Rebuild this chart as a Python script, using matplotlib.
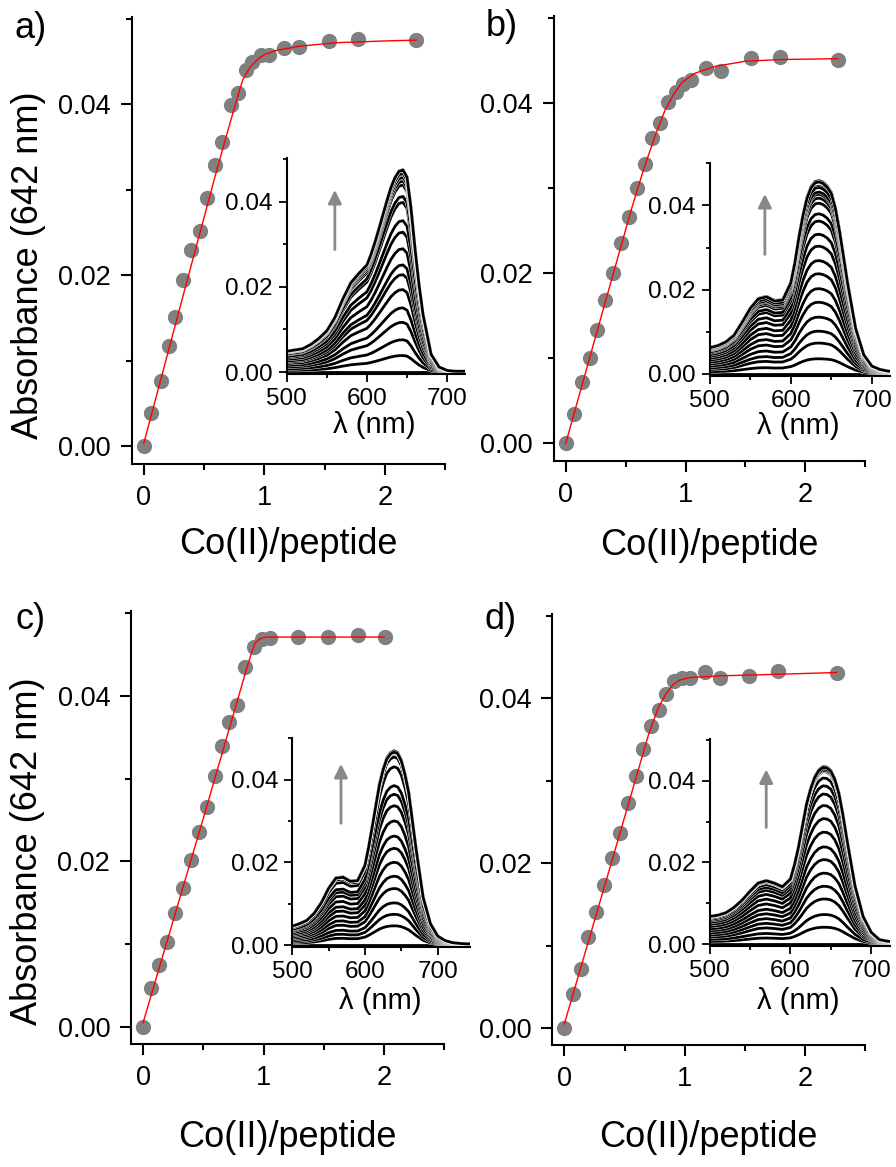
import matplotlib
matplotlib.use('Agg')
import matplotlib.pyplot as plt
import matplotlib.patheffects as pe
from matplotlib.ticker import MultipleLocator, FormatStrFormatter
import numpy as np

plt.rcParams['font.family'] = ['Liberation Sans', 'DejaVu Sans']

# titration at 642 nm: Co(II)/peptide ratio vs absorbance
ratio_a = [0, 0.064, 0.139, 0.208, 0.26, 0.327, 0.393, 0.463, 0.526, 0.587, 0.651, 0.72,
           0.781, 0.845, 0.9, 0.97, 1.039, 1.163, 1.288, 1.537, 1.778, 2.258]
abs_a = [0, 0.0039, 0.0076, 0.0117, 0.0151, 0.0194, 0.0229, 0.0252, 0.029, 0.0329, 0.0356, 0.0399,
         0.0413, 0.044, 0.0449, 0.0458, 0.0458, 0.0466, 0.0467, 0.0474, 0.0476, 0.0475]
ratio_b = [0, 0.067, 0.14, 0.204, 0.265, 0.33, 0.397, 0.464, 0.528, 0.595, 0.659, 0.723,
           0.788, 0.852, 0.916, 0.98, 1.045, 1.17, 1.299, 1.547, 1.79, 2.274]
abs_b = [0, 0.0035, 0.0072, 0.01, 0.0133, 0.0168, 0.02, 0.0235, 0.0266, 0.03, 0.0328, 0.0359,
         0.0376, 0.0401, 0.0413, 0.0422, 0.0427, 0.0441, 0.0438, 0.0453, 0.0454, 0.0451]
ratio_c = [0, 0.064, 0.133, 0.2, 0.264, 0.333, 0.397, 0.464, 0.531, 0.597, 0.653, 0.717,
           0.781, 0.85, 0.917, 0.986, 1.05, 1.286, 1.536, 1.783, 2.008]
abs_c = [0, 0.0047, 0.0075, 0.0103, 0.0138, 0.0168, 0.0202, 0.0236, 0.0266, 0.0303, 0.034, 0.0368,
         0.0389, 0.0435, 0.0459, 0.0469, 0.047, 0.0471, 0.0471, 0.0474, 0.0471]
ratio_d = [0, 0.069, 0.139, 0.2, 0.264, 0.328, 0.394, 0.461, 0.528, 0.592, 0.656, 0.717,
           0.783, 0.847, 0.911, 0.978, 1.042, 1.167, 1.292, 1.536, 1.778, 2.264]
abs_d = [0, 0.0041, 0.0072, 0.011, 0.0141, 0.0173, 0.0206, 0.0237, 0.0273, 0.0306, 0.0338, 0.0366,
         0.0386, 0.0405, 0.0421, 0.0424, 0.0424, 0.0432, 0.0424, 0.0427, 0.0433, 0.0431]

# fitted binding curves
fit_x_a = [0, 0.3, 0.6, 0.75, 0.82, 0.88, 0.95, 1.0, 1.1, 1.3, 1.6, 2.0, 2.26]
fit_y_a = [0.0003, 0.0162, 0.032, 0.0395, 0.0428, 0.0443, 0.0453, 0.0458, 0.0463, 0.0468, 0.0472, 0.0474, 0.0475]
fit_x_b = [0, 0.3, 0.55, 0.65, 0.75, 0.83, 0.9, 0.97, 1.08, 1.25, 1.5, 1.8, 2.27]
fit_y_b = [0, 0.0151, 0.0276, 0.0322, 0.0363, 0.0392, 0.041, 0.0424, 0.0435, 0.0443, 0.0449, 0.0451, 0.0452]
fit_x_c = [0, 0.5, 0.85, 0.9, 0.93, 0.97, 1.02, 2.0]
fit_y_c = [0.0005, 0.0252, 0.0428, 0.0452, 0.0464, 0.0469, 0.0471, 0.0471]
fit_x_d = [0, 0.4, 0.7, 0.78, 0.84, 0.9, 0.96, 1.05, 1.3, 1.8, 2.26]
fit_y_d = [0.0005, 0.0205, 0.0356, 0.0388, 0.0404, 0.0416, 0.0422, 0.0425, 0.0427, 0.0429, 0.0431]

# final (saturated) UV-vis spectra, nm vs absorbance
wl = [500, 510, 520, 530, 540, 550, 560, 570, 580, 590, 600, 605, 610, 615, 620, 625, 630, 635,
      640, 645, 650, 655, 660, 665, 670, 680, 690, 700, 710, 720, 730, 740, 750]
spec_a = [0.0049, 0.0052, 0.0055, 0.0065, 0.0079, 0.0097, 0.0128, 0.0172, 0.021, 0.0232, 0.0252,
          0.0276, 0.0305, 0.0337, 0.037, 0.0403, 0.0434, 0.0457, 0.0472, 0.0475, 0.0458, 0.0385,
          0.029, 0.0205, 0.0135, 0.0042, 0.0012, 0.0004, 0.0002, 0.0002, 0.0002, 0.0002, 0.0002]
spec_b = [0.0062, 0.0067, 0.0076, 0.0092, 0.0123, 0.0156, 0.0179, 0.0184, 0.0174, 0.0176, 0.0217,
          0.0265, 0.0326, 0.0378, 0.042, 0.0445, 0.0457, 0.0459, 0.0455, 0.0446, 0.0431, 0.0395,
          0.0342, 0.028, 0.0217, 0.0108, 0.0045, 0.0018, 0.001, 0.0006, 0.0005, 0.0005, 0.0005]
spec_c = [0.0046, 0.0052, 0.006, 0.0077, 0.0103, 0.0138, 0.0163, 0.0165, 0.0155, 0.0157, 0.0194,
          0.0238, 0.0288, 0.034, 0.0391, 0.0427, 0.0453, 0.0465, 0.047, 0.0466, 0.0448, 0.0415,
          0.0372, 0.0305, 0.0237, 0.0116, 0.0052, 0.0022, 0.0011, 0.0006, 0.0004, 0.0003, 0.0003]
spec_d = [0.0068, 0.0071, 0.0077, 0.009, 0.0108, 0.013, 0.015, 0.0156, 0.015, 0.0141, 0.016,
          0.0195, 0.0239, 0.0292, 0.0345, 0.0382, 0.041, 0.0427, 0.0435, 0.0434, 0.0426, 0.0405,
          0.0371, 0.0318, 0.0257, 0.0143, 0.0068, 0.0029, 0.0011, 0.0007, 0.0005, 0.0004, 0.0004]

letters = ['a)', 'b)', 'c)', 'd)']
inset_xmax = [722, 722, 744, 723]
arrow_x = [560, 568, 567, 570]
arrow_y0 = [0.0281, 0.0277, 0.0288, 0.0279]
arrow_y1 = [0.0434, 0.0434, 0.0445, 0.0435]

main_rects = [[0.147, 0.6024, 0.3497, 0.383], [0.618, 0.6047, 0.3478, 0.3815],
              [0.1462, 0.1051, 0.3497, 0.371], [0.6164, 0.1042, 0.3493, 0.3697]]
inset_rects = [[0.32, 0.6793, 0.1987, 0.1852], [0.7921, 0.678, 0.2009, 0.1827],
               [0.3262, 0.1884, 0.198, 0.1796], [0.7921, 0.1893, 0.2009, 0.1772]]
letter_pos = [(0.016, 0.976), (0.542, 0.977), (0.017, 0.469), (0.541, 0.469)]
xlabel_y = [-0.14, -0.15, -0.175, -0.172]
lam_y = [-0.172, -0.172, -0.19, -0.2]

ratios = [ratio_a, ratio_b, ratio_c, ratio_d]
absorb = [abs_a, abs_b, abs_c, abs_d]
fits = [(fit_x_a, fit_y_a), (fit_x_b, fit_y_b), (fit_x_c, fit_y_c), (fit_x_d, fit_y_d)]
spectra = [spec_a, spec_b, spec_c, spec_d]

fig = plt.figure(figsize=(8.96, 11.67), dpi=100)

for i in range(4):
    ax = fig.add_axes(main_rects[i])
    ax.plot(ratios[i], absorb[i], 'o', color='#808080', ms=11, mec='none', zorder=2)
    ax.plot(fits[i][0], fits[i][1], '-', color='red', lw=1.0, zorder=3)
    ax.set_xlim(-0.1, 2.5)
    ax.set_ylim(-0.0021, 0.0502)
    for s in ['top', 'right']:
        ax.spines[s].set_visible(False)
    for s in ['left', 'bottom']:
        ax.spines[s].set_linewidth(1.5)
    ax.xaxis.set_major_locator(MultipleLocator(1))
    ax.xaxis.set_minor_locator(MultipleLocator(0.5))
    ax.yaxis.set_major_locator(MultipleLocator(0.02))
    ax.yaxis.set_minor_locator(MultipleLocator(0.01))
    ax.xaxis.set_major_formatter(FormatStrFormatter('%d'))
    ax.yaxis.set_major_formatter(FormatStrFormatter('%.2f'))
    ax.tick_params(which='major', direction='out', length=8, width=1.5, labelsize=19.5, pad=7)
    ax.tick_params(which='minor', direction='out', length=4, width=1.5)
    ax.set_xlabel('Co(II)/peptide', fontsize=26)
    ax.xaxis.set_label_coords(0.5, xlabel_y[i])
    if i in (0, 2):
        ax.set_ylabel('Absorbance (642 nm)', fontsize=26)
        ax.yaxis.set_label_coords(-0.274, 0.445)
    fig.text(letter_pos[i][0], letter_pos[i][1], letters[i], fontsize=26, ha='left', va='center')

    # inset: spectra recorded along the titration
    ins = fig.add_axes(inset_rects[i])
    ins.patch.set_alpha(0)
    top = max(absorb[i])
    for a in absorb[i]:
        y = np.array(spectra[i]) * a / top
        ins.plot(wl, y, color='black', lw=2.0,
                 path_effects=[pe.Stroke(linewidth=2.6, foreground='white'), pe.Normal()])
    ins.annotate('', xy=(arrow_x[i], arrow_y1[i]), xytext=(arrow_x[i], arrow_y0[i]),
                 arrowprops=dict(arrowstyle='-|>', color='#888888', lw=2, mutation_scale=20))
    ins.set_xlim(500, inset_xmax[i])
    ins.set_ylim(-0.0005, 0.0502)
    for s in ['top', 'right']:
        ins.spines[s].set_visible(False)
    for s in ['left', 'bottom']:
        ins.spines[s].set_linewidth(1.5)
    ins.xaxis.set_major_locator(MultipleLocator(100))
    ins.xaxis.set_minor_locator(MultipleLocator(50))
    ins.yaxis.set_major_locator(MultipleLocator(0.02))
    ins.yaxis.set_minor_locator(MultipleLocator(0.01))
    ins.yaxis.set_major_formatter(FormatStrFormatter('%.2f'))
    ins.tick_params(which='major', direction='out', length=6, width=1.3, labelsize=17.5, pad=4)
    ins.tick_params(which='minor', direction='out', length=3, width=1.3)
    ins.set_xlabel('λ (nm)', fontsize=21)
    ins.xaxis.set_label_coords(0.494, lam_y[i])

fig.savefig('out.png', dpi=100)
